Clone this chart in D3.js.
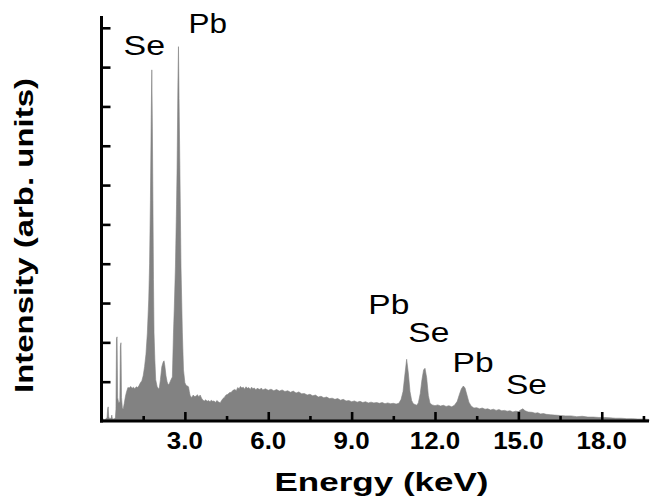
<!DOCTYPE html>
<html>
<head>
<meta charset="utf-8">
<script src="https://cdn.jsdelivr.net/npm/d3@7"></script>
<style>
  html, body { margin: 0; padding: 0; background: #fff; }
  svg { display: block; }
  text { font-family: "Liberation Sans", Arial, sans-serif; fill: #000; }
</style>
</head>
<body>
<svg id="chart" width="651" height="500"></svg>
<script>
// ---- data ----
const energy = [
  0.00,0.05,0.10,0.15,0.20,0.22,0.24,0.26,0.30,0.35,0.37,0.39,0.45,0.50,0.52,0.54,0.56,0.58,0.62,0.66,0.68,0.70,0.72,0.75,0.78,0.82,0.86,0.90,0.95,
  1.00,1.05,1.10,1.15,1.20,1.25,1.30,1.35,1.40,1.45,1.50,1.55,1.60,1.65,1.70,1.73,1.76,1.79,1.81,1.83,1.85,1.87,1.89,1.92,1.95,
  2.00,2.05,2.08,2.12,2.17,2.22,2.25,2.28,2.32,2.36,2.40,2.44,2.50,2.55,2.59,2.62,2.66,2.70,2.72,2.75,2.77,2.79,2.82,2.86,2.91,2.95,
  3.00,3.05,3.09,3.13,3.16,3.19,3.25,3.30,3.35,3.40,3.45,3.50,3.55,3.60,3.65,3.70,3.75,3.80,3.85,3.90,3.95,
  4.00,4.05,4.10,4.15,4.20,4.27,4.32,4.37,4.42,4.48,4.55,4.60,4.67,4.73,4.80,4.85,4.90,4.95,
  5.00,5.05,5.10,5.15,5.20,5.25,5.30,5.35,5.40,5.45,5.50,5.55,5.60,5.70,5.75,5.80,5.90,
  6.00,6.10,6.20,6.30,6.40,6.50,6.60,6.70,6.80,6.90,7.00,7.10,7.20,
  7.30,7.40,7.50,7.60,7.70,7.80,7.90,8.00,8.10,8.20,8.30,8.40,8.50,8.60,8.70,8.80,8.90,
  9.00,9.10,9.20,9.30,9.40,9.50,9.60,9.70,9.80,9.90,10.00,10.10,10.20,10.30,10.40,10.50,10.60,10.70,
  10.78,10.85,10.92,10.98,11.04,11.10,11.16,11.22,11.28,11.34,11.40,11.47,11.53,11.59,11.64,11.70,11.76,11.82,11.90,
  12.00,12.10,12.20,12.30,12.40,12.50,12.60,12.70,12.80,12.88,12.95,13.02,13.08,13.15,13.22,13.30,13.40,13.50,13.60,13.70,13.80,13.90,
  14.00,14.10,14.20,14.30,14.40,14.50,14.60,14.70,14.80,14.90,15.00,15.08,15.16,15.24,15.35,15.50,15.60,15.70,15.80,15.90,
  16.00,16.15,16.30,16.50,16.70,16.90,17.10,17.30,17.50,17.70,17.90,18.10,18.30,18.50,18.70,18.90,19.10,19.30,19.50,19.70
];
const intensity = [
  0.04,0.06,0.03,0.05,0.08,0.30,0.36,0.10,0.05,0.08,0.15,0.06,0.05,0.08,0.30,2.10,2.14,0.60,0.45,0.50,1.90,1.99,0.60,0.33,0.30,0.45,0.62,0.74,0.85,
  0.84,0.88,0.83,0.86,0.82,0.87,0.85,0.90,0.97,1.02,1.15,1.38,1.70,2.24,3.10,4.00,5.60,7.80,8.93,7.50,5.60,3.60,2.24,1.55,1.05,
  0.88,0.82,0.84,1.05,1.38,1.50,1.53,1.40,1.15,1.00,0.92,0.95,1.05,1.12,2.24,2.90,3.92,5.50,6.46,8.60,9.52,8.20,6.46,3.92,2.24,1.30,
  0.97,0.90,0.89,0.87,0.75,0.64,0.60,0.66,0.62,0.63,0.67,0.61,0.66,0.58,0.53,0.51,0.54,0.50,0.52,0.49,0.53,
  0.50,0.51,0.47,0.52,0.49,0.46,0.52,0.57,0.60,0.66,0.68,0.72,0.73,0.78,0.80,0.77,0.85,0.82,
  0.88,0.84,0.86,0.81,0.87,0.83,0.85,0.80,0.86,0.82,0.84,0.79,0.83,0.80,0.84,0.79,0.82,
  0.78,0.81,0.77,0.80,0.76,0.79,0.75,0.77,0.73,0.76,0.71,0.74,0.69,
  0.70,0.66,0.68,0.64,0.66,0.61,0.63,0.59,0.61,0.57,0.58,0.55,0.57,0.53,0.55,0.51,0.52,
  0.49,0.51,0.48,0.50,0.47,0.49,0.46,0.48,0.46,0.47,0.45,0.47,0.44,0.46,0.44,0.45,0.43,0.45,
  0.55,0.75,1.20,1.57,1.22,0.75,0.52,0.44,0.42,0.40,0.46,0.70,1.05,1.30,1.34,1.10,0.65,0.45,0.41,
  0.39,0.41,0.38,0.40,0.37,0.39,0.36,0.40,0.50,0.68,0.82,0.89,0.84,0.66,0.48,0.38,0.33,0.34,0.31,0.33,0.30,0.31,
  0.28,0.30,0.27,0.29,0.26,0.27,0.25,0.26,0.23,0.25,0.24,0.28,0.31,0.26,0.23,0.22,0.20,0.21,0.18,0.19,
  0.17,0.16,0.15,0.14,0.13,0.13,0.11,0.12,0.10,0.10,0.09,0.09,0.08,0.07,0.07,0.06,0.06,0.05,0.05,0.04
];
const xMajorTicks = [3, 6, 9, 12, 15, 18];
const xTickLabels = ["3.0", "6.0", "9.0", "12.0", "15.0", "18.0"];
const xMinorTicks = [1.5, 4.5, 7.5, 10.5, 13.5, 16.5, 19.5];
const yTicks = [1, 2, 3, 4, 5, 6, 7, 8, 9, 10];
const peakNames = ["Se", "Pb", "Pb", "Se", "Pb", "Se"];
const peakLabelEnergy = [1.54, 3.82, 10.34, 11.78, 13.37, 15.29];
const peakLabelIntensity = [9.31, 9.87, 2.71, 2.02, 1.25, 0.69];
const xTitle = "Energy (keV)";
const yTitle = "Intensity (arb. units)";

// ---- drawing ----
const svg = d3.select("#chart");
const x = d3.scaleLinear().domain([0, 19.7]).range([101.5, 649]);
const y = d3.scaleLinear().domain([0, 10.3]).range([421, 16]);

const pts = energy.map((e, i) => [e, intensity[i]]);
const area = d3.area()
  .x(d => x(d[0]))
  .y0(y(0))
  .y1(d => y(d[1]))
  .curve(d3.curveLinear);

svg.append("path")
  .datum(pts)
  .attr("d", area)
  .attr("fill", "#828282")
  .attr("stroke", "#828282")
  .attr("stroke-width", 0.6);

// X axis
const gx = svg.append("g").attr("transform", `translate(0,${y(0)})`);
gx.call(d3.axisTop(x).tickValues(xMajorTicks).tickSize(9).tickFormat(""))
  .call(g => g.select(".domain").remove());
gx.selectAll(".tick line").attr("stroke", "#000").attr("stroke-width", 2.6);
const gxm = svg.append("g").attr("transform", `translate(0,${y(0)})`);
gxm.call(d3.axisTop(x).tickValues(xMinorTicks).tickSize(5).tickFormat(""))
  .call(g => g.select(".domain").remove());
gxm.selectAll(".tick line").attr("stroke", "#000").attr("stroke-width", 2.6);

// Y axis ticks
const gy = svg.append("g").attr("transform", `translate(${x(0)},0)`);
gy.call(d3.axisRight(y).tickValues(yTicks).tickSize(9).tickFormat(""))
  .call(g => g.select(".domain").remove());
gy.selectAll(".tick line").attr("stroke", "#000").attr("stroke-width", 2.6);

// Axis lines
svg.append("line")
  .attr("x1", x(0)).attr("x2", x(0))
  .attr("y1", y(10.3)).attr("y2", y(0) + 1.5)
  .attr("stroke", "#000").attr("stroke-width", 3);
svg.append("line")
  .attr("x1", x(0) - 1.5).attr("x2", x(19.7))
  .attr("y1", y(0)).attr("y2", y(0))
  .attr("stroke", "#000").attr("stroke-width", 3);

// X tick labels
xMajorTicks.forEach((v, i) => {
  const t = svg.append("text")
    .attr("x", x(v)).attr("y", 449)
    .attr("text-anchor", "middle")
    .attr("font-size", 24).attr("font-weight", "bold")
    .text(xTickLabels[i]);
  const w = t.node().getComputedTextLength();
  t.attr("textLength", w * 1.08).attr("lengthAdjust", "spacingAndGlyphs");
});

// Axis titles
svg.append("text")
  .attr("x", 381.5).attr("y", 491)
  .attr("text-anchor", "middle")
  .attr("font-size", 25).attr("font-weight", "bold")
  .attr("textLength", 214).attr("lengthAdjust", "spacingAndGlyphs")
  .text(xTitle);
svg.append("text")
  .attr("transform", "translate(33,235.5) rotate(-90)")
  .attr("text-anchor", "middle")
  .attr("font-size", 25).attr("font-weight", "bold")
  .attr("textLength", 315).attr("lengthAdjust", "spacingAndGlyphs")
  .text(yTitle);

// Peak labels
const peakWidths = [41.5, 38.5, 41, 41, 41, 41];
peakNames.forEach((n, i) => {
  svg.append("text")
    .attr("x", x(peakLabelEnergy[i])).attr("y", y(peakLabelIntensity[i]))
    .attr("text-anchor", "middle")
    .attr("font-size", 27)
    .attr("textLength", peakWidths[i]).attr("lengthAdjust", "spacingAndGlyphs")
    .text(n);
});
</script>
</body>
</html>
